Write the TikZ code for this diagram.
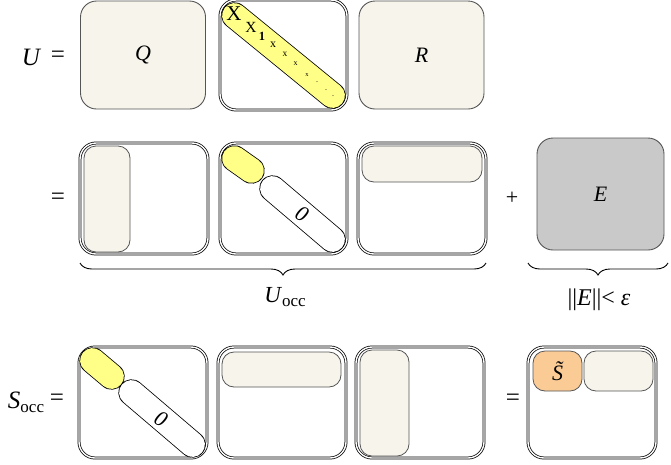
\documentclass[tikz,border=0pt]{standalone}
\usepackage{fontspec}
\setmainfont{Liberation Serif}
\usetikzlibrary{decorations.pathreplacing}
\definecolor{beige}{HTML}{F7F4EC}
\definecolor{yel}{HTML}{FFFF88}
\definecolor{grayE}{HTML}{C9C9C9}
\definecolor{orng}{HTML}{FBCB96}
\definecolor{bord}{HTML}{555555}
\begin{document}
\begin{tikzpicture}[x=1pt,y=-1pt,
  dbox/.style={draw=black, line width=0.75pt, double=white, double distance=1.4pt,
    rounded corners=16pt, minimum width=127pt, minimum height=110pt, inner sep=0pt},
  fbox/.style={draw=bord, line width=0.9pt, rounded corners=16pt, minimum width=125pt,
    minimum height=108pt, inner sep=0pt},
  ibox/.style={draw=bord, line width=0.8pt, fill=beige, rounded corners=12pt, inner sep=0pt},
  capout/.style={line width=26.4pt, line cap=round, draw=black},
  capin/.style={line width=24.8pt, line cap=round},
  lab/.style={font=\fontsize{25}{27}\selectfont, inner sep=0pt},
  mid/.style={font=\fontsize{22}{24}\selectfont\itshape, inner sep=0pt},
  zero/.style={font=\fontsize{22}{24}\selectfont\itshape, inner sep=0pt, rotate=-30},
  diag/.style={inner sep=0pt}
]
\useasboundingbox (0,0) rectangle (671,464);

% ---------- row 1 ----------
\node[lab] (U) at (31,57) {\itshape U};
\node[lab] (eq1) at (58,57) {=};
\node[fbox, fill=beige] (Q) at (143,55) {};
\node[mid] (Qt) at (Q.center) {Q};
\node[dbox] (M) at (283.5,55) {};
\node[fbox, fill=beige] (R) at (421.5,55) {};
\node[mid] (Rt) at (R.center) {R};
\coordinate (c1a) at (234.5,15.5);
\coordinate (c1b) at (332.5,95.5);
\draw[capout] (c1a) -- (c1b);
\draw[capin, draw=yel] (c1a) -- (c1b);
\node[diag, font=\fontsize{21}{22}\selectfont] (t1) at (234,14) {X};
\node[diag, font=\fontsize{15.5}{16}\selectfont] (t2) at (251,27) {X};
\node[diag, font=\fontsize{12.5}{13}\selectfont\bfseries] (t3) at (262,36) {1};
\node[diag, font=\fontsize{12}{13}\selectfont] (t4) at (273,45) {x};
\node[diag, font=\fontsize{9.5}{10}\selectfont] (t5) at (285,54) {x};
\node[diag, font=\fontsize{8}{9}\selectfont] (t6) at (295.5,64) {x};
\node[diag, font=\fontsize{6.5}{7}\selectfont] (t7) at (307,75) {x};
\node[diag, font=\fontsize{8}{9}\selectfont] (t8) at (317,82) {.};
\node[diag, font=\fontsize{8}{9}\selectfont] (t9) at (326,90) {.};
\node[diag, font=\fontsize{8}{9}\selectfont] (t10) at (333,96) {.};

% ---------- row 2 ----------
\node[lab] (eq2) at (58,199) {=};
\node[dbox, minimum width=128pt, minimum height=111pt] (A1) at (144,198.5) {};
\node[ibox, minimum width=46pt, minimum height=106pt] (A1i) at (107,199) {};
\node[dbox, minimum height=111pt] (A2) at (283.5,198.5) {};
\coordinate (y2a) at (234.5,158.5);
\coordinate (y2b) at (251.5,170.5);
\draw[capout] (y2a) -- (y2b);
\draw[capin, draw=yel] (y2a) -- (y2b);
\coordinate (w2a) at (272.5,188.5);
\coordinate (w2b) at (332.5,239.5);
\draw[capout] (w2a) -- (w2b);
\draw[capin, draw=white] (w2a) -- (w2b);
\node[zero] (z2) at (302,214) {0};
\node[dbox, minimum width=128pt, minimum height=111pt] (A3) at (422,198.5) {};
\node[ibox, minimum width=120pt, minimum height=36pt] (A3i) at (422,164) {};
\node[lab, font=\fontsize{22}{24}\selectfont] (plus) at (512,198) {+};
\node[fbox, fill=grayE, minimum width=127pt, minimum height=112pt] (E) at (600.5,194) {};
\node[mid] (Et) at (E.center) {E};

% braces
\coordinate (br1a) at (80,263);
\coordinate (br1b) at (486,263);
\draw[line width=0.9pt, decorate, decoration={brace, mirror, amplitude=12pt}] (br1a) -- (br1b);
\node[inner sep=0pt, font=\fontsize{23}{25}\selectfont] (Uocc) at (285,297) {\textit{U}\raisebox{-0.35ex}{\fontsize{17}{18}\selectfont occ}};
\coordinate (br2a) at (528,263);
\coordinate (br2b) at (668,263);
\draw[line width=0.9pt, decorate, decoration={brace, mirror, amplitude=12pt}] (br2a) -- (br2b);
\node[inner sep=0pt, font=\fontsize{24}{26}\selectfont] (norm) at (599,300) {||\textit{E}||<~\textit{ε}};

% ---------- row 3 ----------
\node[inner sep=0pt, font=\fontsize{25}{27}\selectfont] (S) at (26,402) {\textit{S}\raisebox{-0.35ex}{\fontsize{17}{18}\selectfont occ}};
\node[lab] (eq3) at (57,400) {=};
\node[dbox, minimum width=128pt, minimum height=111pt] (B1) at (143,402.5) {};
\coordinate (y3a) at (92.5,360.5);
\coordinate (y3b) at (111.5,376.5);
\draw[capout] (y3a) -- (y3b);
\draw[capin, draw=yel] (y3a) -- (y3b);
\coordinate (w3a) at (131.5,392.5);
\coordinate (w3b) at (192.5,444.5);
\draw[capout] (w3a) -- (w3b);
\draw[capin, draw=white] (w3a) -- (w3b);
\node[zero] (z3) at (161,419) {0};
\node[dbox, minimum width=128pt, minimum height=111pt] (B2) at (282,402.5) {};
\node[ibox, minimum width=119pt, minimum height=35pt] (B2i) at (281.5,369.5) {};
\node[dbox, minimum width=128pt, minimum height=111pt] (B3) at (420,402.5) {};
\node[ibox, minimum width=49pt, minimum height=106pt] (B3i) at (384.5,403) {};
\node[lab] (eq4) at (513,400) {=};
\node[dbox, minimum width=128pt, minimum height=111pt] (B4) at (592,402.5) {};
\node[ibox, fill=orng, minimum width=49pt, minimum height=40pt] (B4s) at (557.5,371) {};
\node[mid] (St) at (B4s.center) {S\symbol{"0303}};
\node[ibox, minimum width=69pt, minimum height=40pt] (B4i) at (618.5,371) {};
\end{tikzpicture}
\end{document}
